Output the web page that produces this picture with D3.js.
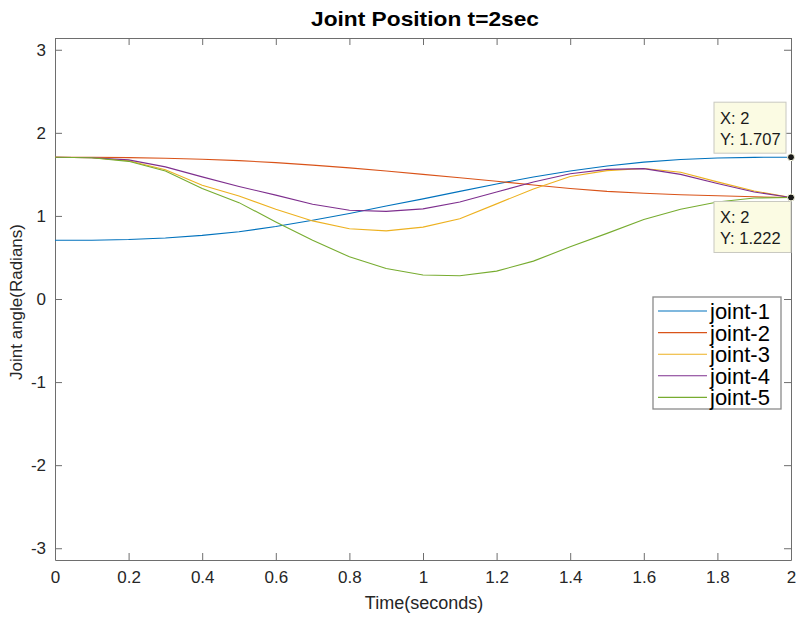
<!DOCTYPE html>
<html>
<head>
<meta charset="utf-8">
<script src="https://cdn.jsdelivr.net/npm/d3@7"></script>
<style>
  body { margin: 0; background: #fff; }
  text { font-family: "Liberation Sans", Arial, sans-serif; }
</style>
</head>
<body>
<svg class="chart" width="798" height="617"></svg>
<script>
// time samples (seconds)
var times = [0, 0.1, 0.2, 0.3, 0.4, 0.5, 0.6, 0.7, 0.8, 0.9, 1.0, 1.1, 1.2, 1.3, 1.4, 1.5, 1.6, 1.7, 1.8, 1.9, 2.0];

// joint angles (radians)
var joint1 = [0.707, 0.708, 0.716, 0.735, 0.766, 0.81, 0.872, 0.948, 1.03, 1.12, 1.205, 1.295, 1.385, 1.468, 1.54, 1.60, 1.647, 1.679, 1.697, 1.705, 1.707];
var joint2 = [1.707, 1.706, 1.702, 1.694, 1.682, 1.665, 1.642, 1.612, 1.578, 1.54, 1.50, 1.46, 1.418, 1.372, 1.33, 1.295, 1.272, 1.255, 1.242, 1.23, 1.222];
var joint3 = [1.707, 1.70, 1.665, 1.555, 1.37, 1.24, 1.08, 0.94, 0.845, 0.82, 0.865, 0.965, 1.145, 1.325, 1.475, 1.545, 1.57, 1.525, 1.41, 1.30, 1.222];
var joint4 = [1.707, 1.70, 1.675, 1.59, 1.47, 1.355, 1.25, 1.14, 1.068, 1.055, 1.085, 1.168, 1.288, 1.408, 1.508, 1.56, 1.569, 1.50, 1.39, 1.288, 1.222];
var joint5 = [1.707, 1.70, 1.657, 1.54, 1.33, 1.16, 0.928, 0.708, 0.508, 0.368, 0.288, 0.28, 0.336, 0.456, 0.628, 0.79, 0.956, 1.08, 1.168, 1.216, 1.222];

var names = ["joint-1", "joint-2", "joint-3", "joint-4", "joint-5"];
var colors = ["#0072BD", "#D95319", "#EDB120", "#7E2F8E", "#77AC30"];
var xTicks = [0, 0.2, 0.4, 0.6, 0.8, 1, 1.2, 1.4, 1.6, 1.8, 2];
var yTicks = [-3, -2, -1, 0, 1, 2, 3];

// data tips at t=2
var tips = [{x: 2, y: 1.707, label: "1.707", above: true}, {x: 2, y: 1.222, label: "1.222", above: false}];

var series = [joint1, joint2, joint3, joint4, joint5].map(function(v, i){
    return {name: names[i], color: colors[i], values: v.map(function(y, j){ return {t: times[j], v: y}; })};
});

//plot box edges
var boxL = 55, boxR = 791, boxT = 38, boxB = 560;
var axisColor = "#6e6e6e";

var x = d3.scaleLinear().domain([0, 2]).range([boxL, boxR]);
var y = d3.scaleLinear().domain([-Math.PI, Math.PI]).range([boxB, boxT]);

var svg = d3.select("svg.chart");

//clip so nothing leaks out of the box
svg.append("clipPath").attr("id", "clip")
    .append("rect").attr("x", boxL).attr("y", boxT).attr("width", boxR - boxL).attr("height", boxB - boxT);

//axes with inward ticks on all four sides
var tl = 7;
var plain = d => String(d); //matlab style labels with a plain hyphen
function styleAxis(g){
    g.selectAll("path").attr("stroke", axisColor);
    g.selectAll("line").attr("stroke", axisColor);
    g.selectAll("text").attr("fill", "#262626").style("font-size", "17px");
}
svg.append("g").attr("transform", `translate(0,${boxB})`)
    .call(d3.axisBottom(x).tickValues(xTicks).tickFormat(plain).tickSizeInner(-tl).tickSizeOuter(0).tickPadding(11))
    .call(styleAxis);
svg.append("g").attr("transform", `translate(0,${boxT})`)
    .call(d3.axisTop(x).tickValues(xTicks).tickFormat("").tickSizeInner(-tl).tickSizeOuter(0))
    .call(styleAxis);
svg.append("g").attr("transform", `translate(${boxL},0)`)
    .call(d3.axisLeft(y).tickValues(yTicks).tickFormat(plain).tickSizeInner(-tl).tickSizeOuter(0).tickPadding(9))
    .call(styleAxis);
svg.append("g").attr("transform", `translate(${boxR},0)`)
    .call(d3.axisRight(y).tickValues(yTicks).tickFormat("").tickSizeInner(-tl).tickSizeOuter(0))
    .call(styleAxis);

//lines
var line = d3.line().x(d => x(d.t)).y(d => y(d.v));
svg.append("g").attr("clip-path", "url(#clip)")
    .selectAll("path.series")
    .data(series)
    .enter()
    .append("path")
        .attr("class", "series")
        .attr("d", d => line(d.values))
        .attr("fill", "none")
        .attr("stroke", d => d.color)
        .attr("stroke-width", 1.1);

//title and axis labels
svg.append("text").attr("x", 425).attr("y", 26).attr("text-anchor", "middle")
    .style("font-size", "21px").style("font-weight", "bold").attr("fill", "#000")
    .attr("textLength", 228).attr("lengthAdjust", "spacingAndGlyphs")
    .text("Joint Position t=2sec");
svg.append("text").attr("x", 424).attr("y", 609).attr("text-anchor", "middle")
    .style("font-size", "18px").attr("fill", "#262626")
    .text("Time(seconds)");
svg.append("text").attr("transform", "translate(22,302) rotate(-90)").attr("text-anchor", "middle")
    .style("font-size", "17px").attr("fill", "#262626")
    .text("Joint angle(Radians)");

//legend
var legend = svg.append("g").attr("transform", "translate(653,297)");
legend.append("rect").attr("width", 128).attr("height", 112)
    .attr("fill", "#fff").attr("stroke", "#8a8a8a").attr("stroke-width", 1.3);
var items = legend.selectAll("g.item").data(series).enter().append("g")
    .attr("class", "item")
    .attr("transform", (d, i) => `translate(0,${14 + i * 21.6})`);
items.append("line").attr("x1", 5).attr("x2", 54).attr("y1", 0).attr("y2", 0)
    .attr("stroke", d => d.color).attr("stroke-width", 1.1);
items.append("text").attr("x", 57).attr("y", 8).style("font-size", "22px").attr("fill", "#000")
    .text(d => d.name);

//data tips
var tipG = svg.selectAll("g.tip").data(tips).enter().append("g").attr("class", "tip");
function tipTop(d){ return d.above ? y(d.y) - 55 : y(d.y) + 4; }
tipG.append("rect")
    .attr("x", 714)
    .attr("y", tipTop)
    .attr("width", d => d.above ? 72 : 77).attr("height", 51)
    .attr("fill", "#fbfbe3").attr("stroke", "#c8c8c0");
tipG.append("text").attr("x", 720)
    .attr("y", d => tipTop(d) + 22)
    .style("font-size", "16.5px").attr("fill", "#1a1a1a")
    .text(d => "X: " + d.x);
tipG.append("text").attr("x", 720)
    .attr("y", d => tipTop(d) + 43)
    .style("font-size", "16.5px").attr("fill", "#1a1a1a")
    .text(d => "Y: " + d.label);
tipG.append("circle").attr("cx", d => x(d.x)).attr("cy", d => y(d.y)).attr("r", 3.5)
    .attr("fill", "#1a1a1a").attr("stroke", "#fbfbe3").attr("stroke-width", 1);
</script>
</body>
</html>
